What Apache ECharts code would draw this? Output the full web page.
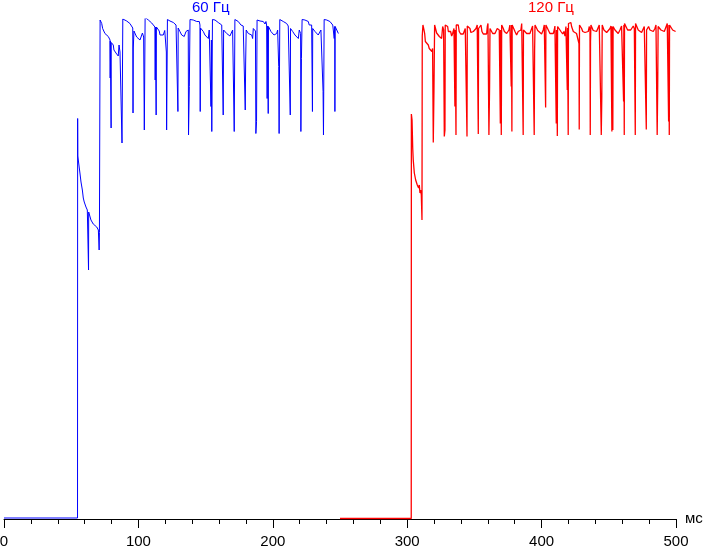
<!DOCTYPE html>
<html>
<head>
<meta charset="utf-8">
<script src="https://cdn.jsdelivr.net/npm/echarts@6/dist/echarts.min.js"></script>
<style>
html,body{margin:0;padding:0;background:#fff;}
#chart{width:703px;height:547px;}
</style>
</head>
<body>
<div id="chart"></div>
<script>
// Time (ms) and relative brightness (%) samples
const seriesNames = ['60 Гц', '120 Гц'];
const xTicks = [0, 100, 200, 300, 400, 500];
const xUnit = 'мс';

const blue60Hz = [
[0,0.2],[54.7,0.2],[54.8,80.1],[54.9,72.6],[55.3,72.2],[56.5,69.2],[57.3,67.4],[58.3,65.8],[59.0,64.2],[59.7,63.4],[61.0,62.4],[62.0,61.8],[62.8,61.5],[62.9,49.8],[63.0,61.4],[63.8,61.2],[64.7,59.8],[66.4,59.0],[69.0,58.4],[70.2,57.8],[70.7,57.5],[70.8,53.8],[71.0,57.3],[71.4,57.2],[71.5,99.8],
[72.2,99.9],[72.7,99.1],[73.4,98.1],[74.4,97.7],[75.1,97.1],[76.4,96.8],[77.6,96.5],[78.9,95.8],[79.0,88.2],[79.1,95.6],[79.6,95.4],[79.7,78.2],[79.8,95.3],[80.4,95.2],[81.3,94.8],[81.8,93.8],[83.3,93.2],[85.0,92.6],[85.6,94.8],[86.3,93.4],[87.6,93.2],[87.8,75.2],[88.4,100.0],
[89.3,99.9],[91.3,99.6],[92.5,99.4],[93.7,99.1],[95.0,98.8],[95.8,98.2],[96.0,81.2],[96.2,94.2],[96.7,97.6],[98.0,97.2],[98.7,96.4],[99.9,96.2],[101.2,95.8],[102.4,95.4],[103.0,97.2],[103.9,96.4],[104.3,96.3],[104.4,77.8],[105.0,100.3],
[106.2,100.2],[107.4,99.8],[108.6,99.5],[109.9,99.2],[111.1,98.8],[112.3,98.4],[112.5,87.8],[112.7,98.4],[113.1,98.4],[113.2,80.8],[113.4,98.4],[114.4,98.2],[115.5,97.6],[116.1,96.8],[117.3,96.6],[118.5,96.8],[119.6,97.7],[120.5,97.8],[120.8,93.4],[121.0,77.8],[121.6,99.9],
[122.2,99.9],[123.5,99.6],[124.8,99.5],[126.0,99.3],[127.2,99.1],[128.0,98.8],[128.5,99.1],[129.2,98.5],[129.4,81.5],[129.6,98.2],[130.9,97.5],[131.7,97.1],[132.2,96.8],[133.4,96.8],[134.1,96.5],[134.9,96.5],[135.4,97.5],[135.9,97.8],[137.1,97.8],[137.3,76.8],[137.9,86.5],[138.4,99.9],
[139.6,99.9],[140.8,99.8],[142.1,99.6],[143.4,99.5],[144.6,99.3],[145.3,99.5],[145.8,98.8],[146.0,81.5],[146.2,98.2],[147.1,98.2],[148.3,97.5],[149.5,96.8],[150.8,96.5],[152.0,96.1],[152.7,97.8],[153.3,97.5],[153.8,98.1],[154.0,82.5],[154.3,95.8],[154.6,77.5],[155.1,99.9],
[155.7,99.9],[157.0,99.8],[158.2,99.6],[159.4,99.3],[160.7,99.1],[162.0,98.8],[162.9,98.5],[163.1,80.8],[163.4,97.8],[164.4,97.5],[165.7,97.1],[166.9,96.8],[168.1,96.6],[169.4,96.5],[170.1,97.8],[170.6,98.1],[171.1,98.0],[171.3,77.5],[171.8,99.9],
[172.6,99.9],[173.1,99.7],[174.3,99.5],[175.6,99.5],[176.3,98.8],[177.6,99.0],[178.0,98.6],[178.8,98.5],[179.3,98.4],[179.5,81.8],[179.8,91.2],[180.2,97.8],[181.8,97.1],[183.0,96.8],[184.3,96.8],[185.0,96.1],[185.5,98.1],[186.2,97.8],[187.1,97.6],[187.4,77.1],[187.9,79.5],[188.3,99.8],
[189.2,99.9],[190.5,99.6],[192.9,99.5],[194.2,99.0],[194.9,99.5],[195.4,98.8],[195.8,84.1],[196.1,98.6],[196.5,98.6],[196.6,81.1],[196.8,98.5],[197.9,98.1],[198.6,97.5],[199.9,97.1],[200.9,96.8],[201.6,96.5],[202.9,97.1],[203.6,97.8],[204.1,98.1],[204.4,90.5],[204.7,77.1],[205.2,99.9],
[205.9,99.9],[206.6,99.8],[207.8,99.5],[209.1,99.5],[210.3,99.1],[211.1,98.8],[211.5,98.6],[212.8,98.5],[213.0,80.8],[213.2,98.1],[214.8,97.5],[215.2,97.1],[216.5,96.8],[217.8,96.6],[219.0,96.1],[219.7,97.8],[220.2,97.5],[220.7,97.1],[220.9,77.5],[221.3,92.1],[221.8,99.9],
[222.7,99.9],[223.9,99.8],[225.2,99.5],[226.4,99.5],[227.1,98.8],[228.2,99.1],[228.9,98.8],[229.3,98.5],[229.5,81.5],[229.7,98.1],[231.4,97.5],[232.6,97.1],[233.8,96.8],[235.1,96.5],[235.8,97.8],[236.6,97.7],[237.1,97.7],[237.4,85.5],[237.7,76.8],[238.2,99.9],
[238.8,99.9],[240.1,99.8],[241.3,99.6],[242.5,99.5],[243.3,99.1],[243.8,99.5],[244.6,98.8],[245.5,98.5],[245.7,96.1],[246.1,98.5],[246.2,81.5],[246.4,98.5],[246.8,98.5],[247.5,98.1],[248.8,97.1],[249.3,97.1]
];

const red120Hz = [
[250.0,0.1],[303.0,0.1],[303.1,81.0],[303.6,79.8],[304.1,74.2],[304.5,71.8],[305.3,69.2],[306.3,67.8],[307.5,66.8],[308.5,66.2],[309.0,66.8],[309.5,65.2],[310.0,65.8],[310.5,64.8],[311.0,59.8],[311.2,96.6],
[311.7,98.8],[312.5,97.8],[313.0,97.1],[313.5,95.5],[314.5,95.1],[315.7,94.8],[316.4,94.1],[316.9,93.8],[317.7,94.5],[318.4,93.5],[318.9,94.1],[319.2,94.0],[319.4,75.3],[319.9,85.5],[320.4,98.8],
[321.2,98.8],[321.9,97.2],[323.1,97.0],[323.9,96.5],[324.9,96.1],[325.6,96.1],[326.4,98.5],[327.1,97.8],[327.5,97.8],[327.6,76.5],[328.1,77.8],[328.3,98.8],
[329.4,99.0],[330.1,98.5],[330.6,97.5],[331.8,97.1],[332.3,97.5],[333.1,96.6],[333.8,97.1],[334.8,98.1],[335.4,98.1],[335.5,82.5],[335.7,97.8],[336.2,97.8],[336.3,76.8],[336.5,98.8],
[338.0,98.8],[338.7,97.5],[339.8,97.0],[340.5,97.3],[341.7,97.0],[342.5,97.3],[343.2,98.1],[343.7,98.5],[344.4,98.5],[344.5,76.5],[344.7,98.6],
[346.0,98.8],[346.7,98.1],[347.4,97.3],[348.0,97.0],[349.2,97.5],[350.4,97.8],[351.2,98.1],[352.1,98.8],[352.8,98.8],[352.9,77.0],[353.1,98.1],
[354.1,98.5],[354.9,98.8],[355.6,97.5],[356.6,97.0],[357.8,97.1],[359.1,97.0],[359.6,98.5],[360.1,99.1],[360.7,99.1],[360.8,76.8],[361.3,86.5],[361.6,98.1],
[362.8,97.8],[363.6,97.1],[364.6,97.5],[365.3,97.1],[366.0,97.0],[367.0,98.1],[367.8,98.5],[368.5,97.8],[369.2,97.8],[369.3,79.1],[369.5,97.8],[369.9,97.8],[370.0,76.8],[370.3,98.8],
[371.5,98.1],[372.3,97.5],[373.3,97.8],[374.0,97.1],[374.8,97.5],[375.7,97.8],[376.4,98.8],[377.3,98.8],[377.4,86.5],[377.6,98.8],[377.8,98.8],[377.9,77.5],[378.1,98.8],
[379.4,98.5],[380.2,97.5],[381.4,96.8],[382.6,97.5],[383.9,97.1],[384.6,97.8],[385.2,99.1],[386.2,99.1],[386.3,76.8],[386.5,97.8],
[387.6,97.5],[388.9,97.1],[390.1,97.0],[391.3,97.1],[392.6,97.5],[393.3,98.6],[394.1,98.5],[394.4,98.5],[394.5,76.8],[394.8,93.8],[395.1,98.8],
[396.3,98.5],[397.1,97.7],[398.3,97.8],[400.0,97.0],[401.2,97.8],[402.0,98.8],[402.9,98.8],[403.0,82.3],[403.2,98.8],
[404.2,98.5],[406.2,97.1],[407.5,97.5],[408.7,97.1],[409.4,97.8],[409.9,98.6],[410.8,98.6],[410.9,79.1],[411.1,97.8],[411.6,97.8],[411.7,76.6],[411.9,98.5],
[413.1,98.8],[414.4,97.5],[415.7,97.0],[416.6,97.5],[417.4,96.6],[418.1,98.5],[419.0,98.4],[419.1,85.8],[419.3,98.2],[419.7,98.2],[419.8,76.8],[420.0,99.1],
[421.8,99.3],[422.3,98.5],[423.6,97.5],[424.8,97.8],[426.0,97.1],[427.3,97.3],[427.8,95.1],[428.0,77.9],[428.2,98.8],
[429.1,98.8],[429.8,98.1],[430.6,97.5],[432.3,97.3],[433.5,97.1],[434.7,97.5],[435.5,98.5],[436.0,97.8],[436.1,97.8],[436.2,76.8],[436.4,95.5],[436.7,98.8],
[438.0,99.1],[438.4,97.7],[439.7,97.5],[440.9,97.5],[442.1,97.7],[442.9,98.8],[443.4,98.5],[444.3,98.5],[444.4,76.8],[444.8,84.5],[445.1,98.8],
[446.4,97.8],[447.1,97.5],[448.4,97.3],[449.6,97.1],[450.9,98.1],[451.6,98.6],[452.2,98.6],[452.3,77.5],[452.5,98.5],[452.9,98.5],[453.0,77.8],[453.2,98.5],
[453.8,98.8],[454.6,97.8],[455.8,97.5],[457.0,97.1],[458.3,97.8],[459.5,98.6],[460.3,98.8],[460.9,98.8],[461.0,83.5],[461.2,98.8],[461.4,98.8],[461.5,76.8],[461.7,99.1],
[462.7,98.8],[464.0,97.8],[465.2,97.5],[466.3,97.8],[467.5,98.1],[468.2,98.6],[469.0,98.1],[469.6,98.1],[469.7,76.8],[469.9,99.1],
[471.2,98.8],[471.9,97.8],[473.2,97.5],[474.4,97.3],[475.6,97.5],[476.4,98.5],[477.1,98.1],[477.8,98.1],[477.9,77.9],[478.1,97.8],
[478.9,97.8],[479.6,98.5],[480.6,97.8],[481.8,97.5],[483.1,97.5],[484.3,98.1],[485.1,98.8],[485.9,98.8],[486.0,76.8],[486.4,86.7],[486.7,98.5],
[488.1,98.5],[488.8,97.8],[490.1,98.1],[491.3,97.5],[492.5,97.3],[493.5,99.1],[494.3,98.8],[494.4,98.8],[494.5,79.5],[494.7,98.8],[494.9,98.8],[495.0,76.8],[495.2,98.8],
[496.2,98.5],[497.5,97.8],[498.7,97.7],[499.7,97.5]
];

const BLUE = '#0000ff';
const RED = '#ff0000';
const FONT = '"Liberation Sans", Arial, sans-serif';

const chart = echarts.init(document.getElementById('chart'), null, {renderer: 'canvas'});
chart.setOption({
  animation: false,
  backgroundColor: '#ffffff',
  grid: {left: 4, right: 27, top: 19, bottom: 28, containLabel: false, outerBoundsMode: 'none'},
  xAxis: {
    type: 'value',
    min: xTicks[0],
    max: xTicks[xTicks.length - 1],
    interval: xTicks[1] - xTicks[0],
    name: xUnit,
    nameLocation: 'end',
    nameGap: 9,
    nameTextStyle: {color: '#000', fontSize: 15, fontFamily: FONT, align: 'left', verticalAlign: 'middle', padding: [2, 0, 0, 0]},
    axisLine: {show: true, lineStyle: {color: '#000', width: 1}},
    axisTick: {show: true, length: 9, lineStyle: {color: '#000', width: 1}},
    minorTick: {show: true, splitNumber: 5, length: 5, lineStyle: {color: '#000', width: 1}},
    splitLine: {show: false},
    minorSplitLine: {show: false},
    axisLabel: {color: '#000', fontSize: 15, fontFamily: FONT, margin: 15, hideOverlap: false}
  },
  yAxis: {
    type: 'value', min: 0, max: 100, show: false,
    splitLine: {show: false}
  },
  series: [
    {
      name: seriesNames[0], type: 'line', data: blue60Hz,
      showSymbol: false, symbol: 'none', smooth: false,
      lineStyle: {color: BLUE, width: 1}, z: 3
    },
    {
      name: seriesNames[1], type: 'line', data: red120Hz,
      showSymbol: false, symbol: 'none', smooth: false,
      lineStyle: {color: RED, width: 1.3}, z: 3
    }
  ],
  graphic: [
    {type: 'text', left: 192, top: 0, style: {text: seriesNames[0], fill: BLUE, font: '15px ' + FONT}},
    {type: 'text', left: 528, top: 0, style: {text: seriesNames[1], fill: RED, font: '15px ' + FONT}}
  ]
});
</script>
</body>
</html>
